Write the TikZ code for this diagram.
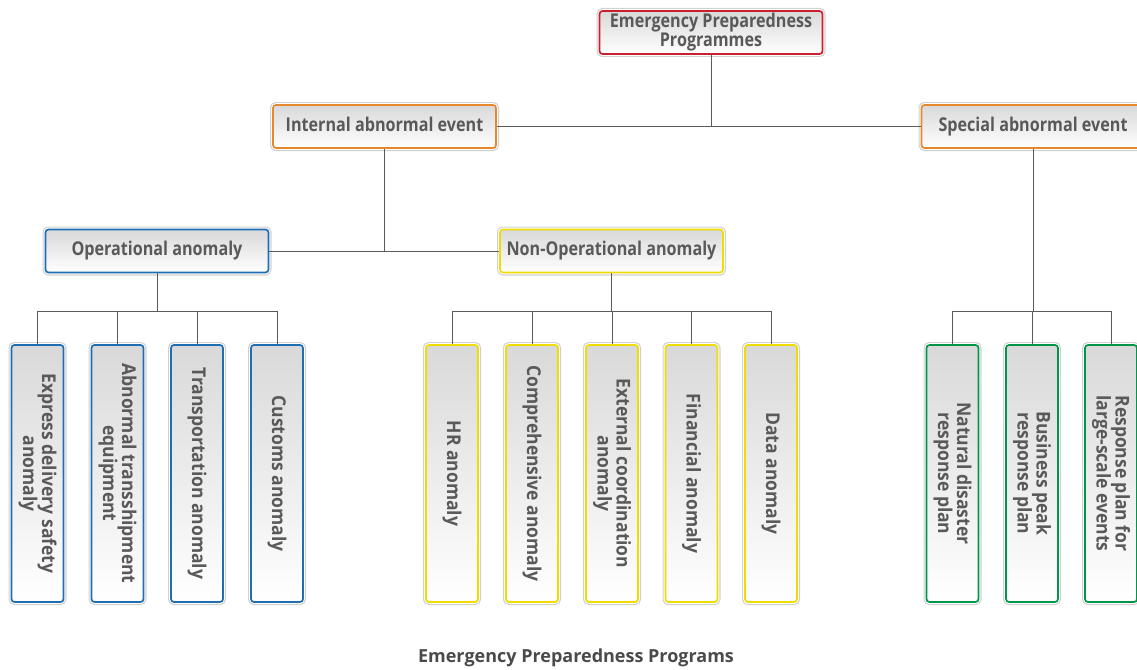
\documentclass[tikz,border=0pt]{standalone}
\usepackage{fontspec}
\usepackage{graphicx}
\setmainfont{Open Sans}
\definecolor{txt}{HTML}{595959}
\definecolor{capt}{HTML}{4A4A4A}
\definecolor{wire}{HTML}{5A5A5A}
\definecolor{cred}{HTML}{C8202F}
\definecolor{corange}{HTML}{E8882C}
\definecolor{cblue}{HTML}{1F6DB3}
\definecolor{cyellow}{HTML}{F0DC00}
\definecolor{cgreen}{HTML}{00964A}
% box labels: slightly condensed, vertical ones read top to bottom
\newcommand{\htext}[1]{\scalebox{0.85}[1]{\begin{tabular}{@{}c@{}}#1\end{tabular}}}
\newcommand{\vtext}[1]{\rotatebox{-90}{\scalebox{0.92}[1]{\begin{tabular}{@{}c@{}}#1\end{tabular}}}}
\begin{document}
\begin{tikzpicture}[x=1pt,y=-1pt,
  box/.style={rounded corners=3pt, line width=1.7pt, draw=#1,
    top color=black!15, bottom color=white,
    preaction={draw=black!18, line width=6pt},
    preaction={draw=white, line width=3.6pt},
    text=txt, align=center, inner sep=0pt},
  hbox/.style={box=#1, minimum width=223pt, minimum height=43pt,
    font=\fontsize{19}{18}\selectfont\bfseries},
  vbox/.style={box=#1, minimum width=52pt, minimum height=257pt,
    font=\fontsize{19}{15}\selectfont\bfseries},
  wire/.style={draw=wire, line width=0.8pt}]
\clip (0,0) rectangle (1137,669);
\useasboundingbox (0,0) rectangle (1137,669);

% upper levels
\node[hbox=cred]    (top)  at (711,32.5)    {\htext{Emergency Preparedness\\Programmes}};
\node[hbox=corange] (int)  at (384.5,126.5) {\htext{Internal abnormal event}};
\node[hbox=corange] (spec) at (1033,126.5)  {\htext{Special abnormal event}};
\node[hbox=cblue]   (op)   at (157,251)     {\htext{Operational anomaly}};
\node[hbox=cyellow] (nop)  at (611.5,251)   {\htext{Non-Operational anomaly}};

% leaf plans
\node[vbox=cblue] (o1) at (37.5,473.5)  {\vtext{Express delivery safety\\anomaly}};
\node[vbox=cblue] (o2) at (117.5,473.5) {\vtext{Abnormal transshipment\\equipment}};
\node[vbox=cblue] (o3) at (197,473.5)   {\vtext{Transportation anomaly}};
\node[vbox=cblue] (o4) at (277,473.5)   {\vtext{Customs anomaly}};

\node[vbox=cyellow] (n1) at (452,473.5)   {\vtext{HR anomaly}};
\node[vbox=cyellow] (n2) at (532,473.5)   {\vtext{Comprehensive anomaly}};
\node[vbox=cyellow] (n3) at (612,473.5)   {\vtext{External coordination\\anomaly}};
\node[vbox=cyellow] (n4) at (691.5,473.5) {\vtext{Financial anomaly}};
\node[vbox=cyellow] (n5) at (771,473.5)   {\vtext{Data anomaly}};

\node[vbox=cgreen] (s1) at (952.5,473.5) {\vtext{Natural disaster\\response plan}};
\node[vbox=cgreen] (s2) at (1032,473.5)  {\vtext{Business peak\\response plan}};
\node[vbox=cgreen] (s3) at (1111,473.5)  {\vtext{Response plan for\\large-scale events}};

\coordinate (bus) at (0,311);

% connectors
\draw[wire] (top.south) -- (top.south |- int.east);
\draw[wire] (int.east) -- (spec.west);
\draw[wire] (int.south) -- (int.south |- op.east);
\draw[wire] (op.east) -- (nop.west);

\draw[wire] (op.south) -- (op.south |- bus);
\draw[wire] (o1.north |- bus) -- (o4.north |- bus);
\foreach \n in {o1,o2,o3,o4} \draw[wire] (\n.north |- bus) -- (\n.north);

\draw[wire] (nop.south) -- (nop.south |- bus);
\draw[wire] (n1.north |- bus) -- (n5.north |- bus);
\foreach \n in {n1,n2,n3,n4,n5} \draw[wire] (\n.north |- bus) -- (\n.north);

\draw[wire] (spec.south) -- (spec.south |- bus);
\draw[wire] (s1.north |- bus) -- (s3.north |- bus);
\foreach \n in {s1,s2,s3} \draw[wire] (\n.north |- bus) -- (\n.north);

\node[text=capt, font=\fontsize{18}{20}\selectfont\bfseries, anchor=base] (cap) at (576,662) {Emergency Preparedness Programs};
\end{tikzpicture}
\end{document}
